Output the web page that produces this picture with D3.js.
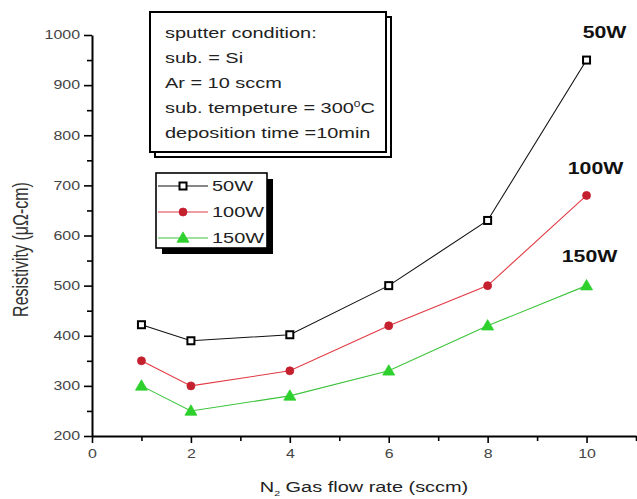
<!DOCTYPE html>
<html>
<head>
<meta charset="utf-8">
<script src="https://cdn.jsdelivr.net/npm/d3@7"></script>
<style>
  html, body { margin: 0; padding: 0; background: #fff; }
  svg { display: block; font-family: "Liberation Sans", Arial, sans-serif; }
</style>
</head>
<body>
<svg id="chart" width="637" height="499"></svg>
<script>
// N2 gas flow (sccm) and measured resistivity (µΩ-cm) per sputter power
const gasFlow = [1, 2, 4, 6, 8, 10];
const res50W = [422, 390, 402, 500, 630, 950];
const res100W = [350, 300, 330, 420, 500, 680];
const res150W = [300, 250, 280, 330, 420, 500];
const seriesNames = ["50W", "100W", "150W"];

const xMajorTicks = [0, 2, 4, 6, 8, 10];
const xMinorTicks = [1, 3, 5, 7, 9, 11];
const yMajorTicks = [200, 300, 400, 500, 600, 700, 800, 900, 1000];
const yMinorTicks = [250, 350, 450, 550, 650, 750, 850, 950];

const conditionLines = [
  "sputter condition:",
  "sub. = Si",
  "Ar = 10 sccm",
  "sub. tempeture = 300",
  "deposition time =10min"
];

// the lettering in this figure is set wide
const SX = 1.33;
function widen(sel) {
  sel.each(function () {
    const t = d3.select(this);
    const x0 = +t.attr("x") || 0;
    t.attr("x", x0 / SX).attr("transform", `scale(${SX},1)`);
  });
  return sel;
}

const svg = d3.select("#chart");

const x = d3.scaleLinear().domain([0, 11]).range([92, 636]);
const y = d3.scaleLinear().domain([200, 1000]).range([436, 35]);

const styles = [
  { name: seriesNames[0], values: res50W, line: "#111", marker: "square", fill: "#fff", stroke: "#000" },
  { name: seriesNames[1], values: res100W, line: "#e23a44", marker: "circle", fill: "#c4202e", stroke: "#c4202e" },
  { name: seriesNames[2], values: res150W, line: "#3cc43c", marker: "triangle", fill: "#2ed02e", stroke: "#2ed02e" }
];

// axes
function styleAxis(g) {
  g.select(".domain").attr("stroke", "#000").attr("stroke-width", 2);
  g.selectAll(".tick line").attr("stroke", "#000").attr("stroke-width", 1.6);
  g.selectAll(".tick text").attr("fill", "#444").style("font-size", "12px")
    .style("font-family", "'Liberation Sans', Arial, sans-serif");
}

const xAxisG = svg.append("g").attr("transform", `translate(0,${y(200)})`)
  .call(d3.axisBottom(x).tickValues(xMajorTicks).tickSize(7).tickPadding(6).tickSizeOuter(0));
styleAxis(xAxisG);
widen(xAxisG.selectAll(".tick text"));
const xMinorG = svg.append("g").attr("transform", `translate(0,${y(200)})`)
  .call(d3.axisBottom(x).tickValues(xMinorTicks).tickSize(5).tickFormat("").tickSizeOuter(0));
styleAxis(xMinorG);
xMinorG.select(".domain").remove();

const yAxisG = svg.append("g").attr("transform", `translate(${x(0)},0)`)
  .call(d3.axisLeft(y).tickValues(yMajorTicks).tickFormat(d3.format("d"))
    .tickSize(8).tickPadding(4).tickSizeOuter(0));
styleAxis(yAxisG);
widen(yAxisG.selectAll(".tick text"));
const yMinorG = svg.append("g").attr("transform", `translate(${x(0)},0)`)
  .call(d3.axisLeft(y).tickValues(yMinorTicks).tickSize(5).tickFormat("").tickSizeOuter(0));
styleAxis(yMinorG);
yMinorG.select(".domain").remove();

// axis titles
svg.append("text")
  .attr("transform", `translate(28,${(y(200) + y(1000)) / 2 + 14}) rotate(-90) scale(1,${SX})`)
  .attr("text-anchor", "middle")
  .style("font-size", "16px").attr("fill", "#333")
  .text("Resistivity (μΩ-cm)");

const xTitle = svg.append("text")
  .attr("x", (x(0) + x(11)) / 2).attr("y", 492)
  .attr("text-anchor", "middle")
  .style("font-size", "15px").attr("fill", "#222");
xTitle.append("tspan").text("N");
xTitle.append("tspan").attr("dy", 4).style("font-size", "8px").text("2");
xTitle.append("tspan").attr("dy", -4).text(" Gas flow rate (sccm)");
widen(xTitle);

// marker drawing
function drawMarker(g, type, cx, cy, fill, stroke) {
  if (type === "square") {
    g.append("rect").attr("x", cx - 3.5).attr("y", cy - 3.5).attr("width", 7).attr("height", 7)
      .attr("fill", fill).attr("stroke", stroke).attr("stroke-width", 2);
  } else if (type === "circle") {
    g.append("circle").attr("cx", cx).attr("cy", cy).attr("r", 4)
      .attr("fill", fill).attr("stroke", stroke).attr("stroke-width", 0.8);
  } else {
    g.append("path")
      .attr("d", d3.symbol().type(d3.symbolTriangle).size(62)())
      .attr("transform", `translate(${cx},${cy + 0.8})`)
      .attr("fill", fill).attr("stroke", stroke).attr("stroke-width", 0.8);
  }
}

// series lines and markers
const line = d3.line().x((d, i) => x(gasFlow[i])).y(d => y(d));
styles.forEach(s => {
  svg.append("path").datum(s.values)
    .attr("d", line).attr("fill", "none")
    .attr("stroke", s.line).attr("stroke-width", 1.1);
  const mg = svg.append("g");
  s.values.forEach((v, i) => drawMarker(mg, s.marker, x(gasFlow[i]), y(v), s.fill, s.stroke));
});

// end-of-series power labels
const endLabels = [
  { name: seriesNames[0], at: res50W[res50W.length - 1], dx: 18, dy: -22 },
  { name: seriesNames[1], at: res100W[res100W.length - 1], dx: 9, dy: -21 },
  { name: seriesNames[2], at: res150W[res150W.length - 1], dx: 3, dy: -24 }
];
endLabels.forEach(l => {
  widen(svg.append("text")
    .attr("x", x(10) + l.dx).attr("y", y(l.at) + l.dy)
    .attr("text-anchor", "middle")
    .style("font-size", "16px").style("font-weight", "bold").attr("fill", "#111")
    .text(l.name));
});

// sputter condition box (with offset shadow frame)
const box = { x: 150, y: 12, w: 236, h: 140 };
svg.append("rect").attr("x", box.x + 5).attr("y", box.y + 5).attr("width", box.w).attr("height", box.h)
  .attr("fill", "#fff").attr("stroke", "#000").attr("stroke-width", 2);
svg.append("rect").attr("x", box.x).attr("y", box.y).attr("width", box.w).attr("height", box.h)
  .attr("fill", "#fff").attr("stroke", "#000").attr("stroke-width", 2);
conditionLines.forEach((t, i) => {
  const tx = svg.append("text").attr("x", 165).attr("y", 38 + i * 25)
    .style("font-size", "15px").attr("fill", "#222").text(t);
  if (i === 3) {
    tx.append("tspan").attr("dy", -6).style("font-size", "9px").text("0");
    tx.append("tspan").attr("dy", 6).text("C");
  }
  widen(tx);
});

// legend
const leg = { x: 156, y: 173, w: 111, h: 75 };
svg.append("rect").attr("x", leg.x + 6).attr("y", leg.y + 6).attr("width", leg.w).attr("height", leg.h)
  .attr("fill", "#000");
svg.append("rect").attr("x", leg.x).attr("y", leg.y).attr("width", leg.w).attr("height", leg.h)
  .attr("fill", "#fff").attr("stroke", "#000").attr("stroke-width", 1.6);
styles.forEach((s, i) => {
  const ly = 186 + i * 26;
  svg.append("line").attr("x1", 158).attr("x2", 208).attr("y1", ly).attr("y2", ly)
    .attr("stroke", s.line).attr("stroke-width", 1.2);
  drawMarker(svg, s.marker, 183, ly, s.fill, s.stroke);
  widen(svg.append("text").attr("x", 212).attr("y", ly + 5)
    .style("font-size", "15px").attr("fill", "#222").text(s.name));
});
</script>
</body>
</html>
